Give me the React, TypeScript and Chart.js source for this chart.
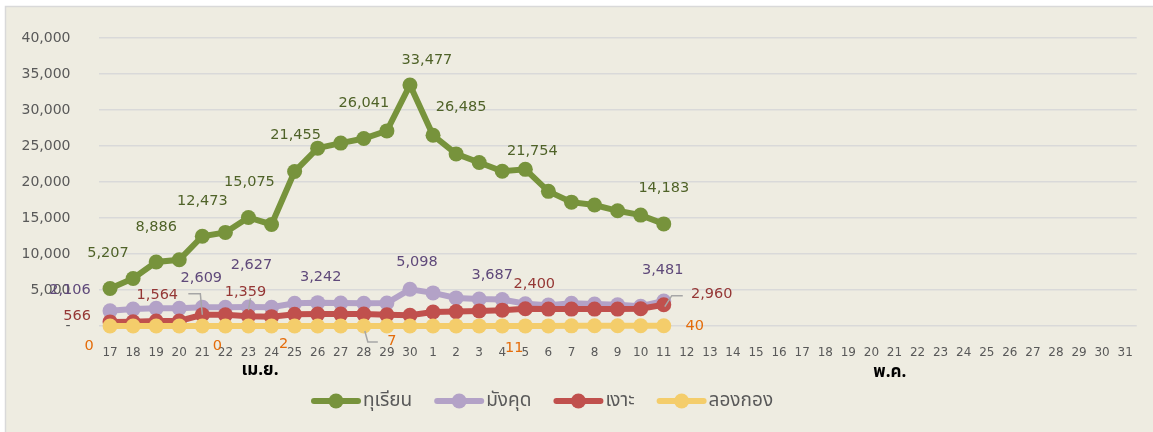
import React, { useEffect, useRef } from 'react';
import { Chart, registerables } from 'chart.js';

Chart.register(...registerables);

const aprilDays = ['17', '18', '19', '20', '21', '22', '23', '24', '25', '26', '27', '28', '29', '30'];
const mayDays = ['1', '2', '3', '4', '5', '6', '7', '8', '9', '10', '11', '12', '13', '14', '15', '16', '17', '18', '19', '20', '21', '22', '23', '24', '25', '26', '27', '28', '29', '30', '31'];
const categories = [...aprilDays, ...mayDays];
const monthLabels = ['เม.ย.', 'พ.ค.'];
const seriesNames = ['ทุเรียน', 'มังคุด', 'เงาะ', 'ลองกอง'];

const durian = [5207, 6600, 8886, 9200, 12473, 13000, 15075, 14100, 21455, 24700, 25400, 26041, 27100, 33477, 26485, 23900, 22700, 21500, 21754, 18700, 17200, 16800, 16000, 15400, 14183];
const mangosteen = [2106, 2350, 2450, 2450, 2609, 2600, 2627, 2600, 3150, 3242, 3200, 3150, 3200, 5098, 4600, 3900, 3750, 3687, 3100, 2900, 3150, 3050, 2950, 2750, 3481];
const rambutan = [566, 600, 700, 700, 1564, 1550, 1359, 1300, 1620, 1650, 1650, 1650, 1550, 1500, 1950, 2000, 2100, 2200, 2400, 2350, 2350, 2350, 2350, 2400, 2960];
const longkong = [0, 0, 0, 0, 0, 1, 1, 2, 3, 4, 5, 7, 7, 8, 9, 10, 10, 11, 11, 15, 20, 25, 30, 35, 40];

const yTicks = [0, 5000, 10000, 15000, 20000, 25000, 30000, 35000, 40000];

const lineColors = ['#77933C', '#B3A2C7', '#C0504D', '#F4CD6B'];
const textColors = ['#4F6228', '#5F497A', '#953735', '#E46C0A'];

// label placement: [dataset, pointIndex, dx, dy, leader?]
const labelLayout: [number, number, number, number, number[][]?][] = [
  [0, 0, -2, -35], [0, 2, 0, -35], [0, 4, 0, -35], [0, 6, 1, -35], [0, 8, 1, -36],
  [0, 11, 0, -35], [0, 13, 17, -25], [0, 14, 28, -28], [0, 18, 7, -18], [0, 24, 0, -36],
  [1, 0, -40, -21], [1, 4, -1, -29], [1, 6, 3, -42], [1, 9, 3, -25], [1, 13, 7, -27],
  [1, 17, -10, -24], [1, 24, -1, -31],
  [2, 0, -33, -6], [2, 4, -45, -20, [[-14, -21], [-2, -21], [0, 0]]], [2, 6, -3, -24, [[2, -18], [0, -6]]],
  [2, 18, 9, -24], [2, 24, 48, -10, [[1, 2], [8, -9], [19, -9]]],
  [3, 0, -21, 20], [3, 4, 15, 20], [3, 7, 12, 18], [3, 11, 28, 15, [[1, 5], [4, 16], [14, 16]]],
  [3, 18, -11, 22], [3, 24, 31, 1],
];

const fmt = (v: number) => v.toLocaleString('en-US');
const NUM_FONT = '"DejaVu Sans", Verdana, sans-serif';
const THAI_FONT = 'Tahoma, "Noto Sans Thai", "Noto Sans", sans-serif';

export default function App() {
  const ref = useRef<HTMLCanvasElement | null>(null);

  useEffect(() => {
    const canvas = ref.current;
    if (!canvas) return;

    const bgPlugin = {
      id: 'bg',
      beforeDraw(chart: any) {
        const c = chart.ctx;
        c.save();
        c.fillStyle = '#FFFFFF';
        c.fillRect(0, 0, chart.width, chart.height);
        c.fillStyle = '#EEECE1';
        c.fillRect(5, 6, chart.width - 5, chart.height - 6);
        c.strokeStyle = '#D9D9D9';
        c.lineWidth = 1.5;
        c.beginPath();
        c.moveTo(5.5, chart.height);
        c.lineTo(5.5, 6.5);
        c.lineTo(chart.width, 6.5);
        c.stroke();
        c.restore();
      },
    };

    const labelPlugin = {
      id: 'labels',
      afterDatasetsDraw(chart: any) {
        const c = chart.ctx;
        const all = [durian, mangosteen, rambutan, longkong];
        c.save();
        labelLayout.forEach(([ds, i, dx, dy, leader]) => {
          const el = chart.getDatasetMeta(ds).data[i];
          if (!el) return;
          if (leader) {
            c.strokeStyle = '#A6A6A6';
            c.lineWidth = 1.5;
            c.beginPath();
            leader.forEach(([lx, ly], k) => {
              if (k === 0) c.moveTo(el.x + lx, el.y + ly);
              else c.lineTo(el.x + lx, el.y + ly);
            });
            c.stroke();
          }
        });
        labelLayout.forEach(([ds, i, dx, dy]) => {
          const el = chart.getDatasetMeta(ds).data[i];
          if (!el) return;
          c.font = `14.5px ${NUM_FONT}`;
          c.fillStyle = textColors[ds];
          c.textAlign = 'center';
          c.textBaseline = 'middle';
          c.fillText(fmt(all[ds][i]), el.x + dx, el.y + dy);
        });
        c.restore();
      },
      afterDraw(chart: any) {
        const c = chart.ctx;
        const xs = chart.scales.x;
        c.save();
        // month group labels
        c.font = `bold 17px ${THAI_FONT}`;
        c.fillStyle = '#000000';
        c.textAlign = 'center';
        c.textBaseline = 'middle';
        const aprMid = (xs.getPixelForValue(0) + xs.getPixelForValue(aprilDays.length - 1)) / 2;
        c.fillText(monthLabels[0], aprMid, 372);
        const mayPos = xs.getPixelForValue(aprilDays.length + 19.8);
        c.fillText(monthLabels[1], mayPos, 374);
        // legend
        c.font = `19px ${THAI_FONT}`;
        let x = 312;
        const y = 401;
        seriesNames.forEach((name, k) => {
          c.strokeStyle = lineColors[k];
          c.lineWidth = 6;
          c.lineCap = 'round';
          c.beginPath();
          c.moveTo(x + 2, y);
          c.lineTo(x + 46, y);
          c.stroke();
          c.fillStyle = lineColors[k];
          c.beginPath();
          c.arc(x + 24, y, 7.5, 0, Math.PI * 2);
          c.fill();
          c.fillStyle = '#595959';
          c.textAlign = 'left';
          c.fillText(name, x + 51, y + 1);
          x += 51 + c.measureText(name).width + 23;
        });
        c.restore();
      },
    };

    const mk = (label: string, data: number[], k: number, order: number) => ({
      label,
      data,
      borderColor: lineColors[k],
      backgroundColor: lineColors[k],
      borderWidth: 6,
      pointRadius: 7.5,
      pointBorderWidth: 0,
      pointBorderColor: lineColors[k],
      pointBackgroundColor: lineColors[k],
      tension: 0,
      clip: false,
      order,
    });

    const chart = new Chart(canvas, {
      type: 'line',
      data: {
        labels: categories,
        datasets: [
          mk(seriesNames[0], durian, 0, 3),
          mk(seriesNames[1], mangosteen, 1, 2),
          mk(seriesNames[2], rambutan, 2, 1),
          mk(seriesNames[3], longkong, 3, 0),
        ],
      },
      options: {
        responsive: false,
        animation: false,
        layout: { padding: { top: 38, left: 0, right: 15.5, bottom: 76 } },
        plugins: { legend: { display: false }, tooltip: { enabled: false } },
        scales: {
          x: {
            offset: true,
            grid: { display: false, drawTicks: false },
            border: { display: false },
            ticks: {
              autoSkip: false,
              maxRotation: 0,
              padding: 20,
              color: '#595959',
              font: { family: NUM_FONT, size: 12 },
            },
            afterFit(scale: any) { scale.height = 30; },
          },
          y: {
            min: 0,
            max: 40000,
            afterBuildTicks(scale: any) { scale.ticks = yTicks.map((v) => ({ value: v })); },
            grid: { color: '#D9D9D9', lineWidth: 1.5, drawTicks: false },
            border: { display: false },
            ticks: {
              padding: 28,
              color: '#595959',
              font: { family: NUM_FONT, size: 14 },
              callback: (v: any) => (Number(v) === 0 ? '-' : fmt(Number(v))),
            },
            afterFit(scale: any) { scale.width = 98.5; },
          },
        },
      },
      plugins: [bgPlugin, labelPlugin],
    } as any);

    return () => chart.destroy();
  }, []);

  return (
    <div style={{ position: 'fixed', left: 0, top: 0, width: 1153, height: 432 }}>
      <canvas ref={ref} width={1153} height={432} style={{ display: 'block' }} />
    </div>
  );
}
